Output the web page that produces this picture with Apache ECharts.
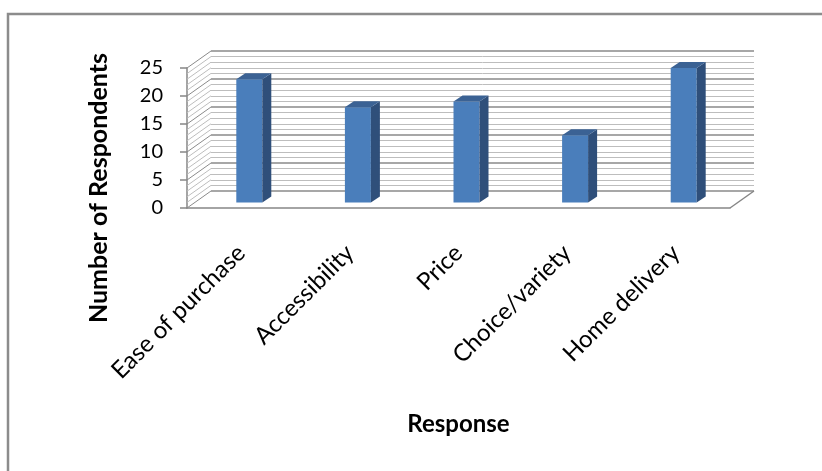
<!DOCTYPE html>
<html>
<head>
<meta charset="utf-8">
<script src="https://cdn.jsdelivr.net/npm/echarts@6/dist/echarts.min.js"></script>
<style>
  html, body { margin: 0; padding: 0; background: #fff; }
  #chart { width: 822px; height: 471px; }
</style>
</head>
<body>
<div id="chart"></div>
<script>
// survey answers
const categories = ['Ease of purchase', 'Accessibility', 'Price', 'Choice/variety', 'Home delivery'];
const respondents = [22, 17, 18, 12, 24];
const yMin = 0;
const yMax = 25;
const yStep = 5;

// 3d look
const DEPTH_X = 24, DEPTH_Y = -17;   // front plane -> back wall
const BAR_W = 26, BAR_DX = 9, BAR_DY = -6;
const font = 'Lato, "Open Sans", sans-serif';

const chart = echarts.init(document.getElementById('chart'));

// side wall hatch + floor right edge, drawn on the front plane grid
function renderWalls(params, api) {
  const cs = params.coordSys;
  const children = [];
  for (let v = yMin; v <= yMax; v++) {
    const y = api.coord([0, v])[1];
    const major = v % yStep === 0;
    children.push({
      type: 'line',
      shape: { x1: cs.x, y1: y, x2: cs.x + DEPTH_X, y2: y + DEPTH_Y },
      style: { stroke: major ? '#8a8a8a' : '#bdbdbd', lineWidth: 1 }
    });
  }
  const y0 = api.coord([0, 0])[1];
  children.push({
    type: 'line',
    shape: { x1: cs.x + cs.width, y1: y0, x2: cs.x + cs.width + DEPTH_X, y2: y0 + DEPTH_Y },
    style: { stroke: '#868686', lineWidth: 1.5 }
  });
  return { type: 'group', children: children };
}

function renderBar(params, api) {
  const top = api.coord([api.value(0), api.value(1)]);
  const base = api.coord([api.value(0), 0]);
  const l = top[0] - BAR_W / 2, r = top[0] + BAR_W / 2;
  return {
    type: 'group',
    children: [
      { type: 'rect', shape: { x: l, y: top[1], width: BAR_W, height: base[1] - top[1] },
        style: { fill: '#4a7ebb' } },
      { type: 'polygon', shape: { points: [[r, top[1]], [r + BAR_DX, top[1] + BAR_DY], [r + BAR_DX, base[1] + BAR_DY], [r, base[1]]] },
        style: { fill: '#2f4f7a' } },
      { type: 'polygon', shape: { points: [[l, top[1]], [l + BAR_DX, top[1] + BAR_DY], [r + BAR_DX, top[1] + BAR_DY], [r, top[1]]] },
        style: { fill: '#3b6294' } }
    ]
  };
}

chart.setOption({
  animation: false,
  graphic: [{
    type: 'polyline',
    shape: { points: [[8, 471], [8, 14], [822, 14]] },
    style: { stroke: '#8c8c8c', lineWidth: 2.5, fill: null }
  }],
  grid: [
    // front plane: axes
    { left: 187, right: 92, top: 68, bottom: 263, outerBoundsMode: 'none' },
    // plane where the bars stand
    { left: 195, right: 84, top: 62.4, bottom: 268.6, outerBoundsMode: 'none' },
    // back wall
    { left: 211, right: 68, top: 51, bottom: 280, outerBoundsMode: 'none' }
  ],
  xAxis: [
    {
      gridIndex: 0, type: 'category', data: categories,
      axisLine: { lineStyle: { color: '#868686', width: 1.5 } },
      axisTick: { show: false },
      axisLabel: { rotate: 45, margin: 41, fontFamily: font, fontSize: 24, color: '#000', interval: 0 },
      name: 'Response', nameLocation: 'middle', nameGap: 204,
      nameTextStyle: { fontFamily: font, fontWeight: 'bold', fontSize: 24, color: '#000' }
    },
    { gridIndex: 1, type: 'category', data: categories, show: false },
    { gridIndex: 2, type: 'category', data: categories, show: false }
  ],
  yAxis: [
    {
      gridIndex: 0, type: 'value', min: yMin, max: yMax, interval: yStep,
      axisLine: { show: true, lineStyle: { color: '#868686', width: 1.5 } },
      axisTick: { show: true, length: 7, lineStyle: { color: '#868686', width: 1.5 } },
      axisLabel: { margin: 24, fontFamily: font, fontSize: 20, color: '#000' },
      splitLine: { show: false },
      name: 'Number of Respondents', nameLocation: 'middle', nameGap: 76, nameRotate: 90,
      nameTextStyle: { fontFamily: font, fontWeight: 'bold', fontSize: 25, color: '#000', padding: [0, 100, 0, 0] }
    },
    { gridIndex: 1, type: 'value', min: yMin, max: yMax, interval: yStep, show: false },
    {
      gridIndex: 2, type: 'value', min: yMin, max: yMax, interval: yStep,
      axisLine: { show: false }, axisTick: { show: false }, axisLabel: { show: false },
      splitLine: { show: true, lineStyle: { color: '#8a8a8a', width: 1.5 } },
      minorTick: { show: false, splitNumber: 5 },
      minorSplitLine: { show: true, lineStyle: { color: '#bdbdbd', width: 1 } }
    }
  ],
  series: [
    {
      type: 'custom', xAxisIndex: 0, yAxisIndex: 0, z: 1,
      data: [[0, 0]], renderItem: renderWalls, silent: true
    },
    {
      type: 'custom', xAxisIndex: 1, yAxisIndex: 1, z: 3,
      data: respondents.map((v, i) => [i, v]), renderItem: renderBar
    }
  ]
});
</script>
</body>
</html>
